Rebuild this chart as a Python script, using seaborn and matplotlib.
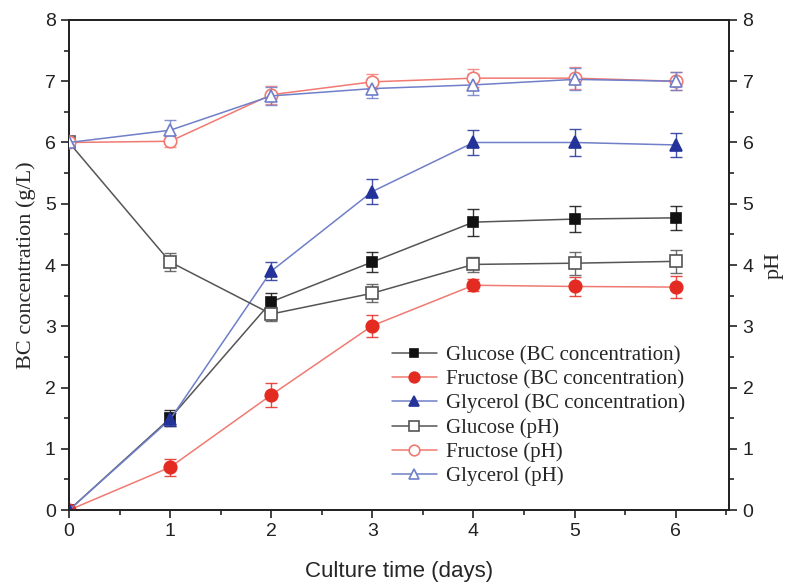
import numpy as np
import pandas as pd
import matplotlib.pyplot as plt
import seaborn as sns
from matplotlib.ticker import MultipleLocator

# datos
days = [0, 1, 2, 3, 4, 5, 6]

glucose_bc = [0, 1.50, 3.40, 4.05, 4.70, 4.75, 4.77]
glucose_bc_err = [0, 0.13, 0.15, 0.16, 0.22, 0.21, 0.20]
fructose_bc = [0, 0.70, 1.88, 3.01, 3.67, 3.65, 3.64]
fructose_bc_err = [0, 0.14, 0.20, 0.18, 0.10, 0.15, 0.18]
glycerol_bc = [0, 1.48, 3.90, 5.20, 6.00, 6.00, 5.96]
glycerol_bc_err = [0, 0.10, 0.15, 0.20, 0.20, 0.22, 0.20]

glucose_ph = [6.00, 4.05, 3.20, 3.54, 4.01, 4.03, 4.06]
glucose_ph_err = [0, 0.15, 0.12, 0.15, 0.12, 0.19, 0.19]
fructose_ph = [6.00, 6.02, 6.78, 6.99, 7.05, 7.05, 7.00]
fructose_ph_err = [0, 0.10, 0.15, 0.12, 0.15, 0.18, 0.15]
glycerol_ph = [6.00, 6.20, 6.76, 6.88, 6.94, 7.03, 7.00]
glycerol_ph_err = [0, 0.17, 0.15, 0.15, 0.17, 0.18, 0.15]

sns.set_style("ticks")
plt.rcParams["font.family"] = ["Liberation Sans", "DejaVu Sans"]
serif = ["Liberation Serif", "DejaVu Serif"]

fig = plt.figure(figsize=(7.87, 5.87), dpi=100)
ax = fig.add_axes([0.0877, 0.131, 0.839, 0.835])
ax2 = ax.twinx()

black_m, black_l = "#111111", "#555555"
red_m, red_l = "#e32b22", "#f07a72"
blue_m, blue_l = "#23339a", "#6f7fc8"

series = [
    (ax, glucose_bc, glucose_bc_err, "Glucose (BC concentration)", "s", black_m, black_l, True, 7),
    (ax, fructose_bc, fructose_bc_err, "Fructose (BC concentration)", "o", red_m, red_l, True, 9),
    (ax, glycerol_bc, glycerol_bc_err, "Glycerol (BC concentration)", "^", blue_m, blue_l, True, 9),
    (ax2, glucose_ph, glucose_ph_err, "Glucose (pH)", "s", black_m, black_l, False, 8),
    (ax2, fructose_ph, fructose_ph_err, "Fructose (pH)", "o", red_m, red_l, False, 9),
    (ax2, glycerol_ph, glycerol_ph_err, "Glycerol (pH)", "^", blue_m, blue_l, False, 9),
]

for a, y, err, label, mk, cm, cl, filled, ms in series:
    a.errorbar(days, y, yerr=err, fmt="none", ecolor=cl if not filled else cm,
               elinewidth=1, capsize=4, capthick=1, alpha=0.85, zorder=2)
    df = pd.DataFrame({"day": days, "val": y})
    sns.lineplot(data=df, x="day", y="val", ax=a, color=cl, linewidth=1.1,
                 marker=mk, markersize=ms,
                 markerfacecolor=cm if filled else "white",
                 markeredgecolor=cm if filled else cl,
                 markeredgewidth=1.2, label=label, zorder=3)

for a in (ax, ax2):
    a.set_xlim(0, 6.53)
    a.set_ylim(0, 8)
    a.yaxis.set_major_locator(MultipleLocator(1))
    a.yaxis.set_minor_locator(MultipleLocator(0.5))
    a.tick_params(axis="both", which="major", length=6, width=1.2, labelsize=14, colors="#222222")
    a.tick_params(axis="both", which="minor", length=3.5, width=1.2)
    for s in a.spines.values():
        s.set_linewidth(1.3)
        s.set_color("#222222")

ax.xaxis.set_major_locator(MultipleLocator(1))
ax.xaxis.set_minor_locator(MultipleLocator(0.5))
ax.set_xticks([0, 1, 2, 3, 4, 5, 6])

ax.set_xlabel("Culture time (days)", fontsize=16, labelpad=15)
ax.set_ylabel("BC concentration (g/L)", fontsize=16, family=serif, labelpad=6)
ax2.set_ylabel("pH", fontsize=16, family=serif, labelpad=8)

h1, l1 = ax.get_legend_handles_labels()
h2, l2 = ax2.get_legend_handles_labels()
ax.get_legend().remove()
ax2.get_legend().remove()
ax2.legend(h1 + h2, l1 + l2, loc="lower left", bbox_to_anchor=(0.46, 0.01),
           frameon=False, prop={"family": serif, "size": 15},
           handlelength=2.2, labelspacing=0.22, handletextpad=0.4, markerscale=0.85)

plt.savefig("out.png", dpi=100)
